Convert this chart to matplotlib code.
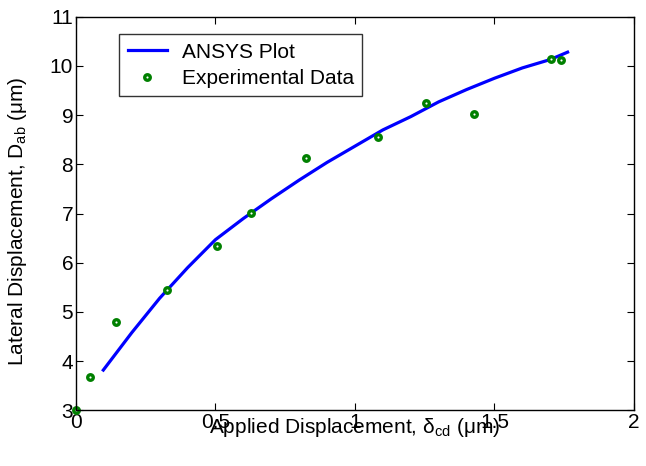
"""Lateral vs applied displacement: ANSYS curve against experimental points."""

import matplotlib

matplotlib.use("Agg")
import matplotlib.pyplot as plt

# ANSYS simulation curve (applied displacement in um -> lateral displacement in um)
ansys_x = [0.098, 0.2, 0.3, 0.4, 0.5, 0.6, 0.7, 0.8, 0.9, 1.0,
           1.1, 1.2, 1.3, 1.4, 1.5, 1.6, 1.7, 1.762]
ansys_y = [3.82, 4.58, 5.28, 5.90, 6.47, 6.90, 7.30, 7.68, 8.04, 8.37,
           8.70, 8.97, 9.27, 9.52, 9.75, 9.96, 10.13, 10.28]

# measured points
exp_x = [0.0, 0.050, 0.1435, 0.325, 0.507, 0.626, 0.826, 1.084, 1.254, 1.428, 1.703, 1.739]
exp_y = [3.0, 3.68, 4.79, 5.44, 6.35, 7.02, 8.13, 8.56, 9.24, 9.02, 10.14, 10.13]

x_ticks = [0, 0.5, 1, 1.5, 2]
x_tick_labels = ["0", "0.5", "1", "1.5", "2"]
y_ticks = [3, 4, 5, 6, 7, 8, 9, 10, 11]


def main() -> int:
    plt.rcParams["font.family"] = ["Liberation Sans", "DejaVu Sans"]
    plt.rcParams["mathtext.fontset"] = "custom"
    plt.rcParams["mathtext.rm"] = "Liberation Sans"
    plt.rcParams["mathtext.it"] = "Liberation Sans:italic"

    fig = plt.figure(figsize=(6.46, 4.66), dpi=100)
    ax = fig.add_axes([0.1176, 0.1193, 0.8638, 0.8448])

    ax.plot(ansys_x, ansys_y, color="#0000ff", lw=2.3, label="ANSYS Plot")
    ax.plot(exp_x, exp_y, ls="none", marker="o", ms=4.0, mew=2.4,
            mec="#008000", mfc="white", label="Experimental Data", clip_on=False)

    ax.set_xlim(0, 2)
    ax.set_ylim(3, 11)
    ax.set_xticks(x_ticks)
    ax.set_xticklabels(x_tick_labels)
    ax.set_yticks(y_ticks)
    ax.tick_params(direction="in", length=5, width=0.8, top=True, right=True,
                   labelsize=15, pad=2)
    for spine in ax.spines.values():
        spine.set_linewidth(1.0)

    # MATLAB-style placement: the x label sits on top of the tick labels
    ax.set_xlabel("Applied Displacement, δ$_{\\rm cd}$ (μm)", fontsize=15)
    ax.xaxis.set_label_coords(0.5, -0.015, transform=ax.transAxes)
    ax.xaxis.label.set_va("top")
    ax.set_ylabel("Lateral Displacement, D$_{\\rm ab}$ (μm)", fontsize=15)
    ax.yaxis.set_label_coords(-0.085, 0.48)

    leg = ax.legend(loc="upper left", bbox_to_anchor=(0.0776, 0.955), fontsize=15,
                    frameon=True, fancybox=False, borderpad=0.4, handlelength=1.9,
                    handletextpad=0.7, labelspacing=0.35, borderaxespad=0)
    leg.get_frame().set_edgecolor("black")
    leg.get_frame().set_linewidth(1.0)

    fig.savefig("out.png", dpi=100)
    plt.close(fig)
    return 0


if __name__ == "__main__":
    raise SystemExit(main())
